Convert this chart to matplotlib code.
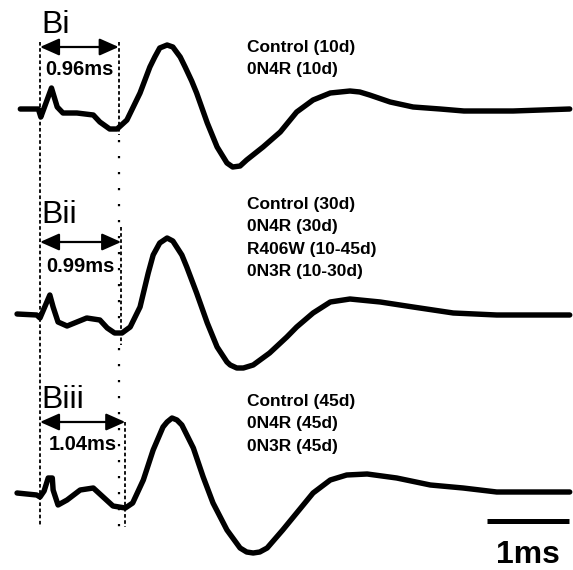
import matplotlib
matplotlib.use("Agg")
import matplotlib.pyplot as plt
from matplotlib.patches import FancyArrowPatch

plt.rcParams['font.family'] = ['Liberation Sans', 'DejaVu Sans']

# compound action potential traces, time in ms, amplitude in arbitrary units
t_i = [-0.24, -0.02, 0.01, 0.14, 0.21, 0.28, 0.45, 0.65, 0.73, 0.85, 0.94, 1.06,
       1.22, 1.34, 1.40, 1.46, 1.55, 1.62, 1.71, 1.77, 1.85, 1.91, 2.04, 2.16,
       2.28, 2.35, 2.44, 2.52, 2.72, 2.93, 3.13, 3.33, 3.54, 3.66, 3.78, 3.90,
       4.02, 4.27, 4.55, 4.88, 5.17, 5.77, 6.46]
a_i = [0, 0, -8, 21, 2, -4, -4, -6, -13, -20, -20, -11,
       16, 42, 52, 61, 64, 62, 52, 42, 28, 16, -14, -38,
       -54, -58, -57, -51, -38, -23, -3, 9, 16, 17, 18, 17,
       14, 7, 2, 0, -2, -2, 0]

t_ii = [-0.28, -0.04, 0.0, 0.12, 0.16, 0.22, 0.33, 0.45, 0.57, 0.73, 0.82, 0.91,
        1.0, 1.10, 1.22, 1.32, 1.38, 1.46, 1.55, 1.62, 1.73, 1.79, 1.91, 2.04,
        2.16, 2.28, 2.32, 2.40, 2.48, 2.60, 2.80, 3.01, 3.13, 3.33, 3.54, 3.78,
        4.15, 4.55, 5.04, 5.57, 6.46]
a_ii = [0, -1, -4, 19, 7, -8, -12, -8, -4, -6, -14, -19,
        -19, -13, 7, 41, 59, 71, 76, 73, 59, 47, 21, -9,
        -33, -48, -51, -54, -54, -51, -39, -23, -13, 1, 12, 15,
        12, 7, 1, -1, -1]

t_iii = [-0.28, -0.04, 0.0, 0.05, 0.10, 0.15, 0.16, 0.22, 0.33, 0.49, 0.65, 0.77,
         0.89, 1.04, 1.13, 1.26, 1.38, 1.50, 1.55, 1.61, 1.67, 1.73, 1.87, 1.99,
         2.11, 2.28, 2.44, 2.52, 2.60, 2.68, 2.77, 2.96, 3.13, 3.33, 3.54, 3.74,
         3.99, 4.35, 4.76, 5.16, 5.57, 6.46]
a_iii = [0, -2, -4, 2, 15, 15, 3, -12, -7, 3, 5, -4,
         -13, -15, -10, 13, 43, 66, 71, 75, 73, 68, 45, 16,
         -10, -37, -55, -59, -60, -59, -55, -37, -20, 0, 13, 18,
         19, 15, 8, 5, 1, 1]

panel_labels = ["Bi", "Bii", "Biii"]
latencies = [0.96, 0.99, 1.04]
groups = [
    ["Control (10d)", "0N4R (10d)"],
    ["Control (30d)", "0N4R (30d)", "R406W (10-45d)", "0N3R (10-30d)"],
    ["Control (45d)", "0N4R (45d)", "0N3R (45d)"],
]

# layout (pixel based helpers)
W, H = 573, 570
PX_MS = 82.0
X0 = 40.0


def tx(xp):
    return (xp - X0) / PX_MS


def ty(yp):
    return H - yp


fig = plt.figure(figsize=(W / 100, H / 100), dpi=100)
ax = fig.add_axes([0, 0, 1, 1])
ax.set_xlim(tx(0), tx(W))
ax.set_ylim(0, H)
ax.axis('off')

traces = [(t_i, a_i), (t_ii, a_ii), (t_iii, a_iii)]
baselines = [109, 314, 493]
label_base = [33, 223, 408]
arrow_y = [47, 242, 422]
lat_text_y = [75, 272, 450]
legend_y = [52, 209, 406]
dash_rng = [(42, 135), (227, 345), (422, 527)]

for k, (t, a) in enumerate(traces):
    off = ty(baselines[k])
    ax.plot(t, [v + off for v in a], color='black', lw=3.9,
            solid_joinstyle='round', solid_capstyle='round')

    ax.text(tx(41), ty(label_base[k]), panel_labels[k], fontsize=23,
            ha='left', va='baseline')

    arr = FancyArrowPatch((0, ty(arrow_y[k])), (latencies[k], ty(arrow_y[k])),
                          arrowstyle='<|-|>,head_length=0.9,head_width=0.4',
                          mutation_scale=13, lw=1.6, color='black',
                          shrinkA=0, shrinkB=0)
    ax.add_patch(arr)
    ax.text(latencies[k] / 2, ty(lat_text_y[k]), f"{latencies[k]:.2f}ms",
            fontsize=14.5, fontweight='bold', ha='center', va='baseline')

    y0, y1 = dash_rng[k]
    ax.plot([latencies[k], latencies[k]], [ty(y0), ty(y1)], color='black',
            lw=1.3, linestyle=(0, (2.0, 1.4)))

    for j, line in enumerate(groups[k]):
        ax.text(tx(247), ty(legend_y[k] + j * 22.3), line, fontsize=12.5,
                fontweight='bold', ha='left', va='baseline')

# stimulus onset line and the Bi latency reference
ax.plot([0, 0], [ty(42), ty(527)], color='black', lw=1.3,
        linestyle=(0, (2.0, 1.4)))
ax.plot([latencies[0], latencies[0]], [ty(140), ty(527)], color='black',
        lw=1.6, linestyle=(0, (1, 6.2)))

# scale bar
ax.plot([tx(487), tx(487) + 1.0], [ty(521), ty(521)], color='black', lw=3.6,
        solid_capstyle='butt')
ax.text(tx(487) + 0.5, ty(563), "1ms", fontsize=23, fontweight='bold',
        ha='center', va='baseline')

fig.savefig("out.png", dpi=100)
